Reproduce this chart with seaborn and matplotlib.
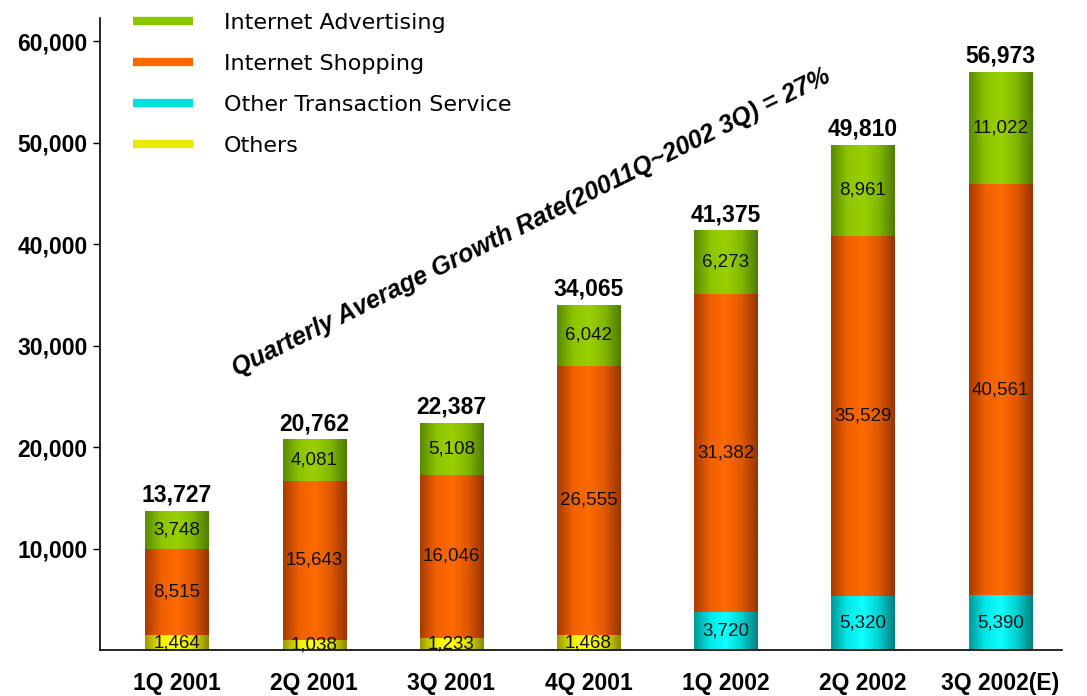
import numpy as np
import pandas as pd
import matplotlib.pyplot as plt
import seaborn as sns
from matplotlib.colors import LinearSegmentedColormap
from matplotlib.lines import Line2D

# Quarterly e-commerce figures (stacked: bottom -> top)
quarters = ["1Q 2001", "2Q 2001", "3Q 2001", "4Q 2001", "1Q 2002", "2Q 2002", "3Q 2002(E)"]
others = [1464, 1038, 1233, 1468, 0, 0, 0]
other_transaction = [0, 0, 0, 0, 3720, 5320, 5390]
shopping = [8515, 15643, 16046, 26555, 31382, 35529, 40561]
advertising = [3748, 4081, 5108, 6042, 6273, 8961, 11022]
totals = [13727, 20762, 22387, 34065, 41375, 49810, 56973]
y_ticks = [10000, 20000, 30000, 40000, 50000, 60000]

df = pd.DataFrame({
    "Quarter": quarters,
    "Others": others,
    "Other Transaction Service": other_transaction,
    "Internet Shopping": shopping,
    "Internet Advertising": advertising,
})

# cylinder-like shading: dark edge -> bright centre -> dark edge
shades = {
    "Others": ["#9a9a00", "#f0f000", "#ffff10", "#e0e000", "#8a8a00"],
    "Other Transaction Service": ["#009a9a", "#00e8e8", "#10ffff", "#00d0d0", "#008080"],
    "Internet Shopping": ["#a83c00", "#f06000", "#ff6a00", "#e05800", "#983400"],
    "Internet Advertising": ["#5a8a00", "#8cc400", "#9ad000", "#80b800", "#507c00"],
}
mid_colors = {
    "Others": "#e8e800",
    "Other Transaction Service": "#00e0e0",
    "Internet Shopping": "#ff6600",
    "Internet Advertising": "#8cc400",
}

sns.set_style("white")
plt.rcParams["font.family"] = ["Liberation Sans", "DejaVu Sans"]
plt.rcParams["text.color"] = "black"
plt.rcParams["xtick.color"] = "black"
plt.rcParams["ytick.color"] = "black"

fig, ax = plt.subplots(figsize=(10.87, 6.96), dpi=100)
fig.subplots_adjust(left=0.092, right=0.977, bottom=0.066, top=0.974)

layers = ["Others", "Other Transaction Service", "Internet Shopping", "Internet Advertising"]
bottom = np.zeros(len(df))
for name in layers:
    n_before = len(ax.patches)
    sns.barplot(data=df, x="Quarter", y=name, bottom=bottom, width=0.46,
                color=mid_colors[name], edgecolor="none", ax=ax)
    cmap = LinearSegmentedColormap.from_list(name, shades[name])
    grad = np.linspace(0, 1, 64).reshape(1, -1)
    for patch in ax.patches[n_before:]:
        x0, y0 = patch.get_xy()
        w, h = patch.get_width(), patch.get_height()
        if h <= 0:
            continue
        im = ax.imshow(grad, cmap=cmap, extent=[x0, x0 + w, y0, y0 + h],
                       aspect="auto", zorder=patch.get_zorder() + 0.1)
        im.set_clip_path(patch)
    # value labels inside segments
    for i, v in enumerate(df[name]):
        if v > 0:
            ax.text(i, bottom[i] + v / 2, f"{v:,}", ha="center", va="center",
                    fontsize=13.5, color="#111111", zorder=5)
    bottom = bottom + df[name].values

# totals above bars
for i, t in enumerate(totals):
    ax.annotate(f"{t:,}", (i, bottom[i]), xytext=(0, 3), textcoords="offset points",
                ha="center", va="bottom", fontsize=16.5, fontweight="bold", zorder=5)

ax.set_xlim(-0.56, 6.45)
ax.set_ylim(0, 62300)
ax.set_yticks(y_ticks)
ax.set_yticklabels([f"{t:,}" for t in y_ticks], fontsize=16.5, fontweight="bold")
ax.set_xticks(range(len(quarters)))
ax.set_xticklabels(quarters, fontsize=16.5, fontweight="bold")
ax.tick_params(axis="y", left=True, length=5, width=1, color="black", pad=4)
ax.tick_params(axis="x", bottom=False, pad=12)
ax.set_xlabel("")
ax.set_ylabel("")
for side in ["top", "right"]:
    ax.spines[side].set_visible(False)
for side in ["left", "bottom"]:
    ax.spines[side].set_color("black")
    ax.spines[side].set_linewidth(1.2)

# legend in the original order (top entry first)
handles = [Line2D([0], [0], color=mid_colors[n], lw=6, solid_capstyle="butt")
           for n in layers[::-1]]
fig.legend(handles, layers[::-1], loc="upper left", bbox_to_anchor=(0.122, 0.982),
           frameon=False, prop={"family": "DejaVu Sans", "size": 16},
           handlelength=2.7, handletextpad=1.4, labelspacing=0.95,
           borderpad=0, borderaxespad=0)

fig.text(0.489, 0.681, "Quarterly Average Growth Rate(20011Q~2002 3Q) = 27%",
         rotation=26.4, rotation_mode="anchor", ha="center", va="center",
         fontsize=18, fontstyle="italic", fontweight="bold")

fig.savefig("out.png", dpi=100)
